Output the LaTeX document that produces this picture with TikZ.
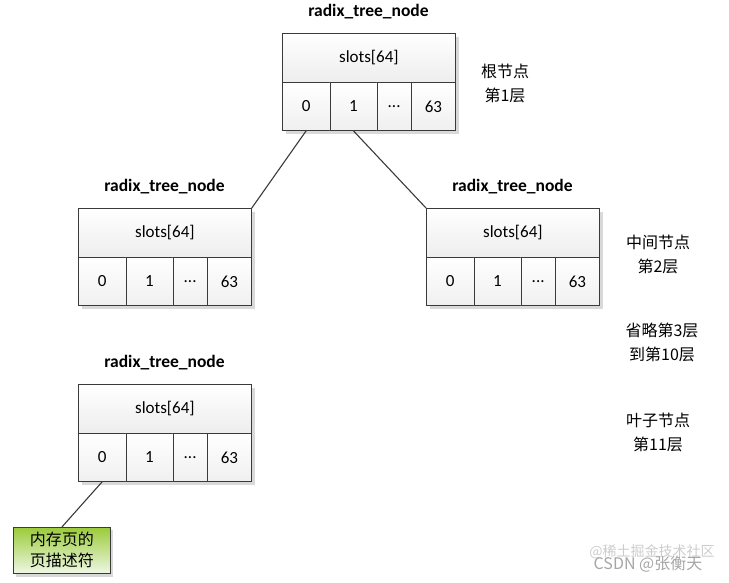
\documentclass[tikz,border=0pt]{standalone}
\usepackage{fontspec}
\setmainfont{Carlito}
\newfontfamily\cjk{Noto Sans CJK SC}
\definecolor{edgec}{HTML}{3A3A3A}
\definecolor{shadowc}{HTML}{D9D9D9}
\definecolor{greentop}{HTML}{9CCB3B}
\definecolor{greenbot}{HTML}{EEF7E4}
\tikzset{
  boxborder/.style={draw=edgec, line width=0.8pt},
  toprow/.style={boxborder, top color=white, bottom color=gray!14, minimum width=173pt, minimum height=49pt, inner sep=0pt, anchor=north west, font=\fontsize{17}{19}\selectfont},
  cell/.style={boxborder, top color=white, bottom color=gray!12, minimum height=48pt, inner sep=0pt, anchor=north west, font=\fontsize{17}{19}\selectfont},
  ttl/.style={font=\bfseries\fontsize{17.5}{19}\selectfont, inner sep=0pt},
  lvl/.style={font=\cjk\fontsize{16}{24}\selectfont, align=center, inner sep=0pt},
  link/.style={draw=edgec, line width=1.1pt},
  rnode/.pic={
    \fill[shadowc] (4,4) rectangle (177,101);
    \node[toprow] (-top) at (0,0) {slots[64]};
    \node[cell, minimum width=47.5pt] (-c0) at (0,49) {0};
    \node[cell, minimum width=47pt] (-c1) at (47.5,49) {1};
    \node[cell, minimum width=34.5pt] (-c2) at (94.5,49) {...};
    \node[cell, minimum width=44pt] (-c3) at (129,49) {63};
    \node[ttl] (-title) at (86.5,-21) {radix\_tree\_node};
  }
}
\begin{document}
\begin{tikzpicture}[x=1pt, y=-1pt]
\useasboundingbox (0,0) rectangle (729,582);
\pic (root) at (282,33) {rnode};
\pic (left) at (78,208) {rnode};
\pic (right) at (426,208) {rnode};
\pic (leaf) at (78,384) {rnode};
% page descriptor
\fill[shadowc] (16,530) rectangle (113,577);
\node[draw=edgec, line width=0.8pt, top color=greentop, bottom color=greenbot, minimum width=97pt, minimum height=46pt, inner sep=0pt, anchor=north west, font=\cjk\fontsize{16}{21}\selectfont, align=center] (page) at (13,527) {内存页的\\页描述符};
% connectors
\draw[link] (root-c0.south) -- (left-top.north east);
\draw[link] (root-c1.south) -- (right-top.north west);
\draw[link] (leaf-c0.south) -- (page.north);
% level labels
\node[lvl] (l1) at (505,83) {根节点\\第1层};
\node[lvl] (l2) at (658,254) {中间节点\\第2层};
\node[lvl] (l3) at (662,342) {省略第3层\\到第10层};
\node[lvl] (l4) at (658,432) {叶子节点\\第11层};
% watermark
\node[font=\cjk\fontsize{14}{16}\selectfont, text=gray!40] (wm1) at (652,552) {@稀土掘金技术社区};
\node[font=\cjk\fontsize{16}{18}\selectfont, text=gray!70] (wm2) at (648,564) {CSDN @张衡天};
\end{tikzpicture}
\end{document}
